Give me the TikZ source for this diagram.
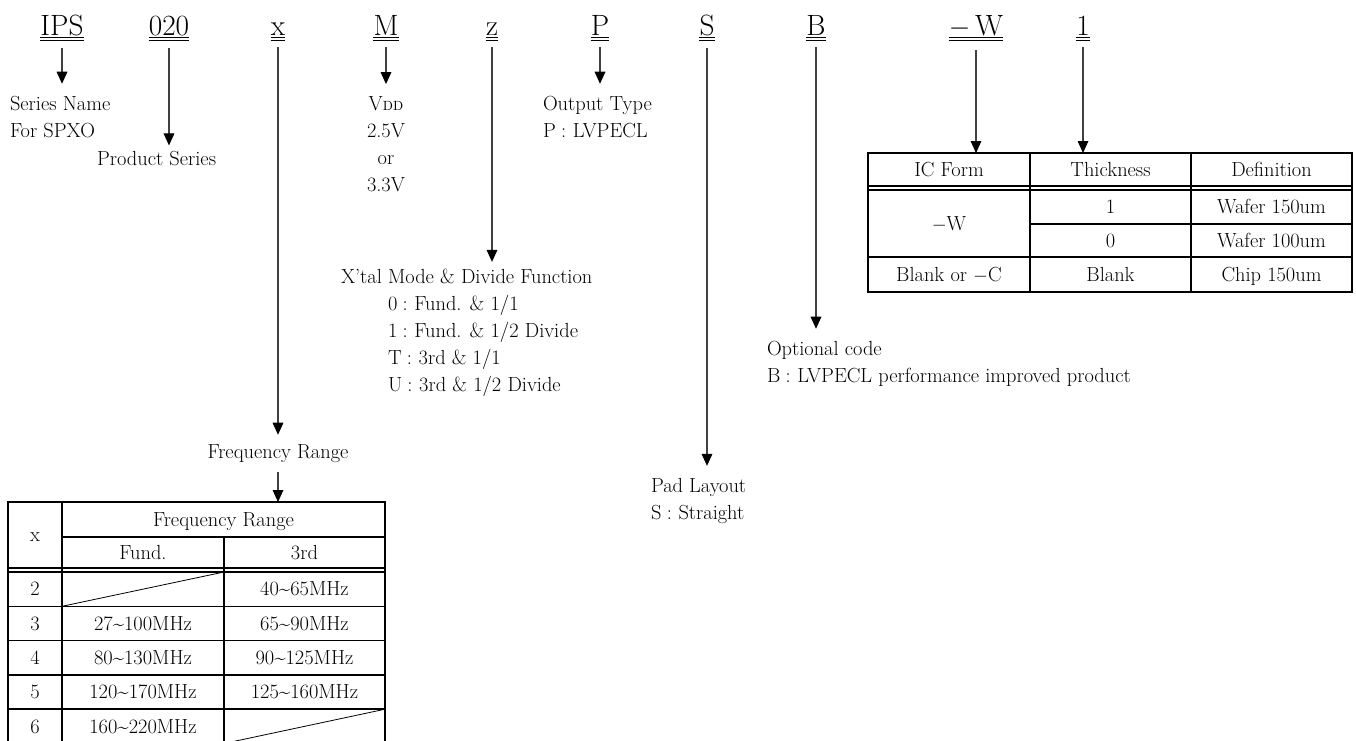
\documentclass[tikz,border=0pt]{standalone}
\usepackage{tikz}
\usetikzlibrary{positioning, arrows.meta, calc}

\newcommand{\lbfont}{\fontsize{15.3}{17}\selectfont}
\newcommand{\cdfont}{\fontsize{22}{24}\selectfont}
\newcommand{\wave}{\textasciitilde}
\newcommand{\cln}{\hspace{4pt}:\hspace{5pt}}

\begin{document}
\begin{tikzpicture}[
    x=0.75pt, y=-0.75pt,
    code/.style={font=\cdfont, inner xsep=0pt, inner ysep=9pt, anchor=base},
    lbl/.style={font=\lbfont, inner sep=0pt, outer xsep=0pt, outer ysep=9pt, anchor=base west},
    cell/.style={font=\lbfont, inner sep=0pt, text height=10pt, text depth=0pt},
    pin/.style={draw=black!75, line width=0.8pt, -{Triangle[width=8pt,length=9pt,black]}},
    dul/.style={line width=0.9pt},
    grid/.style={line width=1.4pt},
    thin grid/.style={line width=1.1pt},
    slash/.style={line width=0.6pt}
]
\useasboundingbox (0,0) rectangle (1356,740);
\fill[white] (0,0) rectangle (1356,740);
\clip (0,0) rectangle (1356,740);

% Part number codes
\node[code] (cIPS) at (62,35) {IPS};
\node[code] (c020) at (169,35) {020};
\node[code] (cx) at (278,35) {x};
\node[code] (cM) at (386,35) {M};
\node[code] (cz) at (492,35) {z};
\node[code] (cP) at (600,35) {P};
\node[code] (cS) at (707,35) {S};
\node[code] (cB) at (816,35) {B};
\node[code] (cW) at (976,35) {$-$\,W};
\node[code] (c1) at (1083,35) {1};

% Double underlines
\foreach \c in {cIPS,c020,cx,cM,cz,cP,cS,cB,cW,c1} {
    \draw[dul] ($(\c.base west)+(0,2.5)$) -- ($(\c.base east)+(0,2.5)$);
    \draw[dul] ($(\c.base west)+(0,5.8)$) -- ($(\c.base east)+(0,5.8)$);
}

% Descriptions
\node[lbl] (sName) at (10,110) {Series Name};
\node[lbl] (sSpxo) at (10,137) {For SPXO};
\node[lbl, outer ysep=4pt] (prod) at (97,165) {Product Series};
\node[lbl, anchor=base] (vdd) at (386,110) {V{\fontsize{10}{10}\selectfont DD}};
\node[lbl, anchor=base] (v25) at (386,137) {2.5V};
\node[lbl, anchor=base] (vor) at (386,164) {or};
\node[lbl, anchor=base] (v33) at (386,191) {3.3V};
\node[lbl] (outT) at (543,110) {Output Type};
\node[lbl] (outP) at (543,137) {P\cln LVPECL};
\node[lbl, outer ysep=5pt] (xtal) at (341,283) {X'tal Mode \& Divide Function};
\node[lbl] (xt0) at (388,310) {0\cln Fund. \& 1/1};
\node[lbl] (xt1) at (388,337) {1\cln Fund. \& 1/2 Divide};
\node[lbl] (xtT) at (388,364) {T\cln 3rd \& 1/1};
\node[lbl] (xtU) at (388,391) {U\cln 3rd \& 1/2 Divide};
\node[lbl, anchor=base, outer ysep=7pt] (fLbl) at (278,458) {Frequency Range};
\node[lbl] (optC) at (767,355) {Optional code};
\node[lbl] (optB) at (767,382) {B\cln LVPECL performance improved product};
\node[lbl] (padL) at (651,492) {Pad Layout};
\node[lbl] (padS) at (651,519) {S\cln Straight};

\coordinate (fTop) at (278,502);
\coordinate (icTop) at (868,153);

% Arrows
\draw[pin] (cIPS.south) -- (cIPS.south |- sName.north);
\draw[pin] (c020.south) -- (c020.south |- prod.north);
\draw[pin] (cx.south) -- (cx.south |- fLbl.north);
\draw[pin] (fLbl.south) -- (fLbl.south |- fTop);
\draw[pin] (cM.south) -- (cM.south |- vdd.north);
\draw[pin] (cz.south) -- (cz.south |- xtal.north);
\draw[pin] (cP.south) -- (cP.south |- outT.north);
\draw[pin] (cS.south) -- (cS.south |- padL.north);
\draw[pin] (cB.south) -- (cB.south |- optC.north);
\draw[pin] (cW.south) -- (cW.south |- icTop);
\draw[pin] (c1.south) -- (c1.south |- icTop);

% Frequency range table
\draw[grid] (8,502) rectangle (385,743.5);
\draw[thin grid] (62,502) -- (62,743.5);
\draw[thin grid] (62,537) -- (385,537);
\draw[thin grid] (224,537) -- (224,743.5);
\draw[thin grid] (8,568) -- (385,568);
\draw[thin grid] (8,572) -- (385,572);
\foreach \y in {606.3,640.6,674.9,709.2}
    \draw[thin grid] (8,\y) -- (385,\y);
\draw[slash] (62,606.3) -- (224,572);
\draw[slash] (224,743.5) -- (385,709.2);

\node[cell] (fX) at (35,535) {x};
\node[cell] (fHead) at (223.5,519.5) {Frequency Range};
\node[cell] (fFund) at (143,552.5) {Fund.};
\node[cell] (f3rd) at (304.5,552.5) {3rd};
\node[cell] (fr2) at (35,589.2) {2};
\node[cell] (fb2) at (304.5,589.2) {40\wave65MHz};
\node[cell] (fr3) at (35,623.5) {3};
\node[cell] (fa3) at (143,623.5) {27\wave100MHz};
\node[cell] (fb3) at (304.5,623.5) {65\wave90MHz};
\node[cell] (fr4) at (35,657.8) {4};
\node[cell] (fa4) at (143,657.8) {80\wave130MHz};
\node[cell] (fb4) at (304.5,657.8) {90\wave125MHz};
\node[cell] (fr5) at (35,692.1) {5};
\node[cell] (fa5) at (143,692.1) {120\wave170MHz};
\node[cell] (fb5) at (304.5,692.1) {125\wave160MHz};
\node[cell] (fr6) at (35,726.4) {6};
\node[cell] (fa6) at (143,726.4) {160\wave220MHz};

% IC form table
\draw[grid] (868,153) rectangle (1352,292);
\draw[thin grid] (1030,153) -- (1030,292);
\draw[thin grid] (1191,153) -- (1191,292);
\draw[thin grid] (868,186) -- (1352,186);
\draw[thin grid] (868,190) -- (1352,190);
\draw[thin grid] (1030,224) -- (1352,224);
\draw[thin grid] (868,257) -- (1352,257);

\node[cell] (icH) at (949,169.5) {IC Form};
\node[cell] (thH) at (1110.5,169.5) {Thickness};
\node[cell] (dfH) at (1271.5,169.5) {Definition};
\node[cell] (icW) at (949,223.5) {$-$W};
\node[cell] (th1) at (1110.5,207) {1};
\node[cell] (df1) at (1271.5,207) {Wafer 150um};
\node[cell] (th0) at (1110.5,240.5) {0};
\node[cell] (df0) at (1271.5,240.5) {Wafer 100um};
\node[cell] (icC) at (949,274.5) {Blank or $-$C};
\node[cell] (thB) at (1110.5,274.5) {Blank};
\node[cell] (dfC) at (1271.5,274.5) {Chip 150um};

\end{tikzpicture}
\end{document}
